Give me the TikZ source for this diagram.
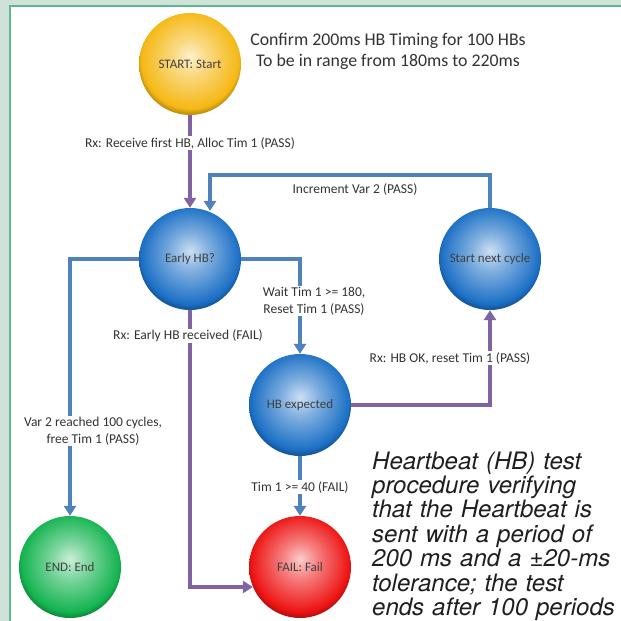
\documentclass[tikz,border=0pt]{standalone}
\usepackage{fontspec}
\setmainfont{Carlito}
\newfontfamily\captionfont{texgyreheros-italic.otf}
\usetikzlibrary{arrows.meta, positioning, calc}

\definecolor{framegreen}{HTML}{CFE2DA}
\definecolor{frameline}{HTML}{5DB88F}
\definecolor{flowblue}{HTML}{4F81BD}
\definecolor{flowpurple}{HTML}{8064A2}
\definecolor{orbyellow}{HTML}{F5B814}
\definecolor{orbblue}{HTML}{1C70C6}
\definecolor{orbgreen}{HTML}{14B450}
\definecolor{orbred}{HTML}{EE1414}
\colorlet{orbc}{orbblue}

\pgfdeclareradialshading[orbc]{orbshade}{\pgfpoint{0bp}{4bp}}{color(0bp)=(orbc!22!white); color(9bp)=(orbc!55!white); color(24bp)=(orbc); color(26bp)=(orbc!80!black); color(50bp)=(orbc!80!black)}

\tikzset{
  orb/.code={\colorlet{orbc}{#1}\tikzset{shading=orbshade}},
  state/.style={circle, minimum size=102pt, inner sep=0pt, text=black!75,
    font=\fontsize{13}{15}\selectfont},
  flow/.style={line width=4pt, -{Triangle[length=10pt,width=12pt]}},
  pass/.style={flow, draw=flowblue},
  hit/.style={flow, draw=flowpurple},
  lbl/.style={fill=white, inner sep=1pt, text=black!80, align=center,
    font=\fontsize{13.5}{17}\selectfont}
}

\begin{document}
\begin{tikzpicture}[x=1pt, y=-1pt]
\useasboundingbox (0,0) rectangle (621,621);
\fill[framegreen] (0,0) rectangle (621,621);
\fill[white] (10,6) rectangle (621,621);
\draw[frameline, line width=1.5pt] (10,621) -- (10,6) -- (621,6);

% states
\node[state, orb=orbyellow] (start) at (190,64) {START: Start};
\node[state, orb=orbblue] (early) at (190,259) {Early HB?};
\node[state, orb=orbblue] (cycle) at (490,259) {Start next cycle};
\node[state, orb=orbblue] (expect) at (300,405) {HB expected};
\node[state, orb=orbgreen] (endn) at (70,567) {END: End};
\node[state, orb=orbred] (fail) at (300,567) {FAIL: Fail};

\node[text=black!80, align=center, font=\fontsize{17.8}{21}\selectfont] (title) at (388,51)
  {Confirm 200ms HB Timing for 100 HBs\\To be in range from 180ms to 220ms};

% transitions
\coordinate (inc) at (210,175);
\draw[hit] (start) -- (early);
\draw[pass] (cycle.north) |- (inc) -- (inc |- early.70);
\draw[pass] (early.east) -| (expect.north);
\draw[pass] (early.west) -| (endn.north);
\draw[hit] (early.south) |- (fail.203);
\draw[hit] (expect.east) -| (cycle.south);
\draw[pass] (expect) -- (fail);

\node[lbl] (rxfirst) at (190,143) {Rx: Receive first HB, Alloc Tim 1 (PASS)};
\node[lbl, fill=none] (incvar) at (355,189) {Increment Var 2 (PASS)};
\node[lbl] (wait) at (314,301) {Wait Tim 1 >= 180,\\Reset Tim 1 (PASS)};
\node[lbl] (reached) at (93,431) {Var 2 reached 100 cycles,\\free Tim 1 (PASS)};
\node[lbl] (rxearly) at (188,336) {Rx: Early HB received (FAIL)};
\node[lbl] (rxok) at (450,358) {Rx: HB OK, reset Tim 1 (PASS)};
\node[lbl] (timeout) at (300,487) {Tim 1 >= 40 (FAIL)};

\node[anchor=base west, inner sep=0pt, text width=250pt, align=left, text=black!88,
  font=\captionfont\fontsize{24}{24.4}\selectfont] (caption) at (372,469)
  {Heartbeat (HB) test\\procedure verifying\\that the Heartbeat is\\sent with a period of\\200 ms and a ±20-ms\\tolerance; the test\\ends after 100 periods};
\end{tikzpicture}
\end{document}
